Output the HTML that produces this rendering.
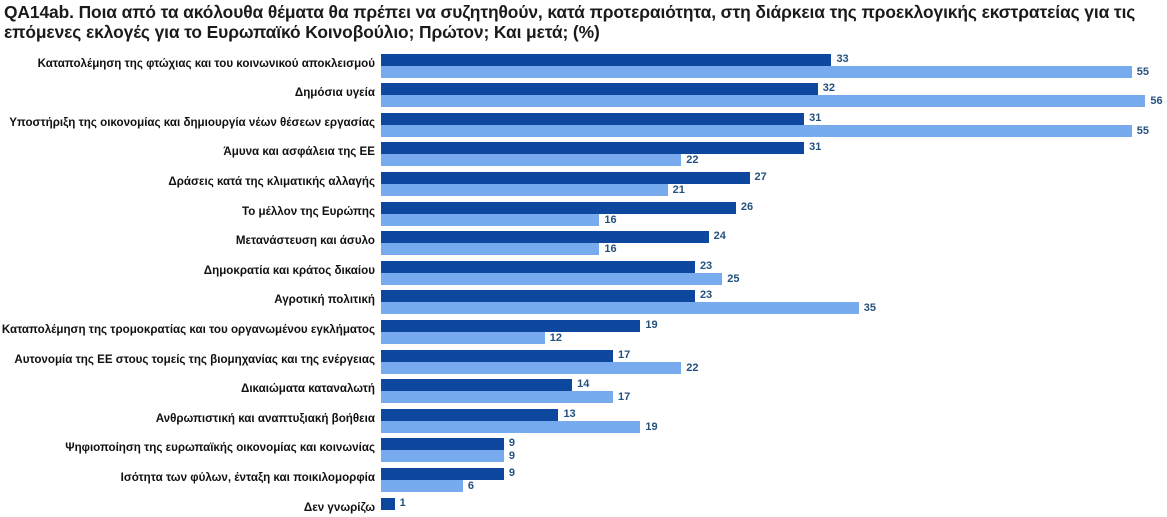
<!DOCTYPE html>
<html><head><meta charset="utf-8"><style>
body{margin:0;width:1167px;height:517px;background:#fff;font-family:"Liberation Sans","DejaVu Sans",sans-serif;position:relative;overflow:hidden}
.t{position:absolute;left:4px;top:2px;font-size:17.4px;font-weight:bold;color:#1a1a1a;line-height:20px;letter-spacing:-0.1px}
.l{position:absolute;right:792px;font-size:11.6px;color:#111;white-space:nowrap;font-weight:bold}
.b{position:absolute;left:381px}
.d{background:#0d479e;height:12px}
.g{background:#78aaee;height:12px}
.v{position:absolute;font-size:11px;font-weight:bold;color:#24527e}
</style></head><body>
<div class="t">QA14ab. Ποια από τα ακόλουθα θέματα θα πρέπει να συζητηθούν, κατά προτεραιότητα, στη διάρκεια της προεκλογικής εκστρατείας για τις<br>επόμενες εκλογές για το Ευρωπαϊκό Κοινοβούλιο; Πρώτον; Και μετά; (%)</div>
<div id="c"></div>
<script>
var d=[["Καταπολέμηση της φτώχιας και του κοινωνικού αποκλεισμού",33,55],["Δημόσια υγεία",32,56],["Υποστήριξη της οικονομίας και δημιουργία νέων θέσεων εργασίας",31,55],["Άμυνα και ασφάλεια της ΕΕ",31,22],["Δράσεις κατά της κλιματικής αλλαγής",27,21],["Το μέλλον της Ευρώπης",26,16],["Μετανάστευση και άσυλο",24,16],["Δημοκρατία και κράτος δικαίου",23,25],["Αγροτική πολιτική",23,35],["Καταπολέμηση της τρομοκρατίας και του οργανωμένου εγκλήματος",19,12],["Αυτονομία της ΕΕ στους τομείς της βιομηχανίας και της ενέργειας",17,22],["Δικαιώματα καταναλωτή",14,17],["Ανθρωπιστική και αναπτυξιακή βοήθεια",13,19],["Ψηφιοποίηση της ευρωπαϊκής οικονομίας και κοινωνίας",9,9],["Ισότητα των φύλων, ένταξη και ποικιλομορφία",9,6],["Δεν γνωρίζω",1,null]];
var h="",s=13.65;
d.forEach(function(r,i){var y=53.5+i*29.6;
h+='<div class="l" style="top:'+(y+3)+'px">'+r[0]+'</div>';
h+='<div class="b d" style="top:'+y+'px;width:'+(r[1]*s)+'px"></div>';
h+='<div class="v" style="top:'+(y-1)+'px;left:'+(381+r[1]*s+5)+'px">'+r[1]+'</div>';
if(r[2]!=null){h+='<div class="b g" style="top:'+(y+12)+'px;width:'+(r[2]*s)+'px"></div>';
h+='<div class="v" style="top:'+(y+12)+'px;left:'+(381+r[2]*s+5)+'px">'+r[2]+'</div>';}
});
document.getElementById("c").innerHTML=h;
</script>
</body></html>
